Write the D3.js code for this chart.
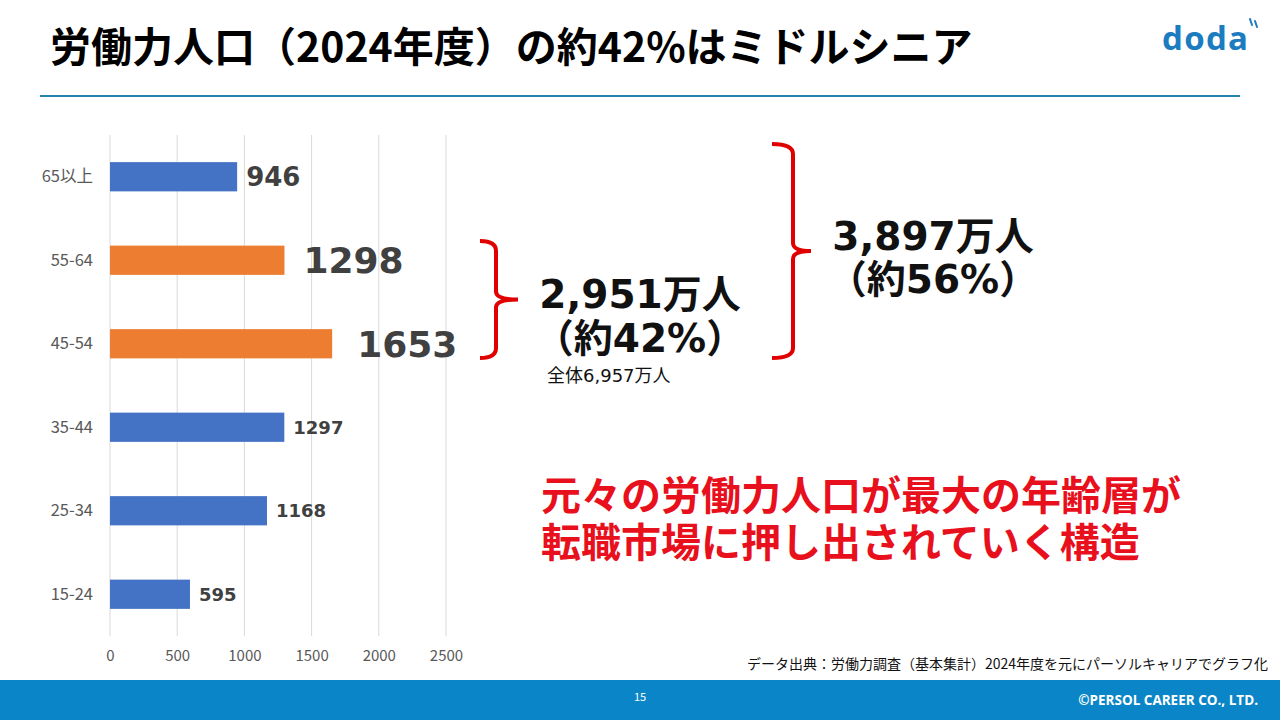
<!DOCTYPE html>
<html><head><meta charset="utf-8">
<script src="https://cdn.jsdelivr.net/npm/d3@7"></script>
<style>body{margin:0;background:#fff}svg{display:block}</style>
</head><body>
<svg id="c" width="1280" height="720"></svg>
<script>
const categories = ["65以上","55-64","45-54","35-44","25-34","15-24"];
const values = [946, 1298, 1653, 1297, 1168, 595];
const highlighted = ["55-64","45-54"];
const xTicks = [0,500,1000,1500,2000,2500];
const titleText = "労働力人口（2024年度）の約42%はミドルシニア";
const groupMid = ["2,951万人","（約42%）"];
const groupAll = ["3,897万人","（約56%）"];
const totalText = "全体6,957万人";
const messageLines = ["元々の労働力人口が最大の年齢層が","転職市場に押し出されていく構造"];
const sourceText = "データ出典：労働力調査（基本集計）2024年度を元にパーソルキャリアでグラフ化";
const pageNo = "15";
const copyright = "©PERSOL CAREER CO., LTD.";

const svg = d3.select("#c");
const JP = "'Noto Sans CJK JP','Noto Sans',sans-serif";
const LAT = "'DejaVu Sans','Noto Sans CJK JP',sans-serif";

// title
svg.append("text").attr("x",50).attr("y",62).text(titleText)
  .attr("font-family",JP).attr("font-weight",700).attr("font-size",41).attr("fill","#000");
svg.append("line").attr("x1",40).attr("x2",1240).attr("y1",96).attr("y2",96)
  .attr("stroke","#2183ad").attr("stroke-width",2);

// logo
svg.append("text").attr("x",1162).attr("y",50).text("doda")
  .attr("font-family","'Open Sans',sans-serif").attr("font-weight",700).attr("font-size",33)
  .attr("fill","#1b7cc0").attr("textLength",86).attr("lengthAdjust","spacing");
[[1250,19,1252,25],[1255,21,1257,27]].forEach(d=>svg.append("line")
  .attr("x1",d[0]).attr("y1",d[1]).attr("x2",d[2]).attr("y2",d[3])
  .attr("stroke","#1b7cc0").attr("stroke-width",2).attr("stroke-linecap","round"));

// chart
const x = d3.scaleLinear().domain([0,2500]).range([110,446]);
const y = d3.scaleBand().domain(categories).range([135,636]).paddingInner(0.65).paddingOuter(0.325);
const g = svg.append("g");
g.selectAll(".grid").data(xTicks).join("line")
  .attr("x1",d=>x(d)).attr("x2",d=>x(d)).attr("y1",135).attr("y2",636)
  .attr("stroke","#d9d9d9").attr("stroke-width",1);
const xAxis = d3.axisBottom(x).tickValues(xTicks).tickSize(0).tickPadding(0).tickFormat(d3.format("d"));
const ax = svg.append("g").attr("transform","translate(0,650)").call(xAxis);
ax.select(".domain").remove();
ax.selectAll("text").attr("font-family",JP).attr("font-size",15).attr("fill","#595959");
const yAxis = d3.axisLeft(y).tickSize(0).tickPadding(0);
const ay = svg.append("g").attr("transform","translate(93,0)").call(yAxis);
ay.select(".domain").remove();
ay.selectAll("text").attr("font-family",JP).attr("font-size",16.5).attr("fill","#595959");

const data = categories.map((c,i)=>({c, v: values[i], hi: highlighted.includes(c)}));
g.selectAll(".bar").data(data).join("rect")
  .attr("x",x(0)).attr("y",d=>y(d.c)).attr("width",d=>x(d.v)-x(0)).attr("height",y.bandwidth())
  .attr("fill",d=>d.hi?"#ed7d31":"#4472c4");
function labelSize(d,i){ return d.hi?36:(i===0?26:18); }
function labelGap(d,i){ return d.hi?(d.v>1500?25:19):(i===0?9:9); }
g.selectAll(".lbl").data(data).join("text")
  .attr("x",(d,i)=>x(d.v)+labelGap(d,i)).attr("y",d=>y(d.c)+y.bandwidth()/2)
  .attr("dy","0.36em").text(d=>d.v)
  .attr("font-family",LAT).attr("font-weight",700).attr("font-size",labelSize).attr("fill","#404040");

// brackets
function bracket(xl, xv, xt, yt, yb){
  const ym=(yt+yb)/2;
  return `M${xl},${yt} Q${xv},${yt} ${xv},${yt+10} L${xv},${ym-8} Q${xv},${ym} ${xt},${ym} Q${xv},${ym} ${xv},${ym+8} L${xv},${yb-10} Q${xv},${yb} ${xl},${yb}`;
}
svg.append("path").attr("d",bracket(480,496,518,241,358)).attr("fill","none").attr("stroke","#e00000").attr("stroke-width",4);
svg.append("path").attr("d",bracket(772,793,811,144,358)).attr("fill","none").attr("stroke","#e00000").attr("stroke-width",4);

function bigText(lines, cx, y0, dy){
  const t = svg.append("text").attr("text-anchor","middle").attr("font-family",LAT)
    .attr("font-weight",700).attr("font-size",39).attr("fill","#111");
  lines.forEach((s,i)=>t.append("tspan").attr("x",cx).attr("y",y0+i*dy).text(s));
}
bigText(groupMid, 640, 308, 44);
bigText(groupAll, 933, 250, 43);
svg.append("text").attr("x",547).attr("y",382).text(totalText)
  .attr("font-family",LAT).attr("font-size",18).attr("fill","#111");

const msg = svg.append("text").attr("font-family",JP).attr("font-weight",700)
  .attr("font-size",40).attr("fill","#e8101c");
messageLines.forEach((s,i)=>msg.append("tspan").attr("x",541).attr("y",510+i*47).text(s));

svg.append("text").attr("x",1268).attr("y",669).attr("text-anchor","end").text(sourceText)
  .attr("font-family",JP).attr("font-size",14).attr("fill","#111");

// footer
svg.append("rect").attr("x",0).attr("y",680).attr("width",1280).attr("height",40).attr("fill","#0a86c8");
svg.append("text").attr("x",640).attr("y",701).attr("text-anchor","middle").text(pageNo)
  .attr("font-family",JP).attr("font-size",11).attr("fill","#fff");
svg.append("text").attr("x",1258).attr("y",705).attr("text-anchor","end").text(copyright)
  .attr("font-family","'Open Sans',sans-serif").attr("font-weight",700).attr("font-size",13.5).attr("fill","#fff");
</script>
</body></html>
